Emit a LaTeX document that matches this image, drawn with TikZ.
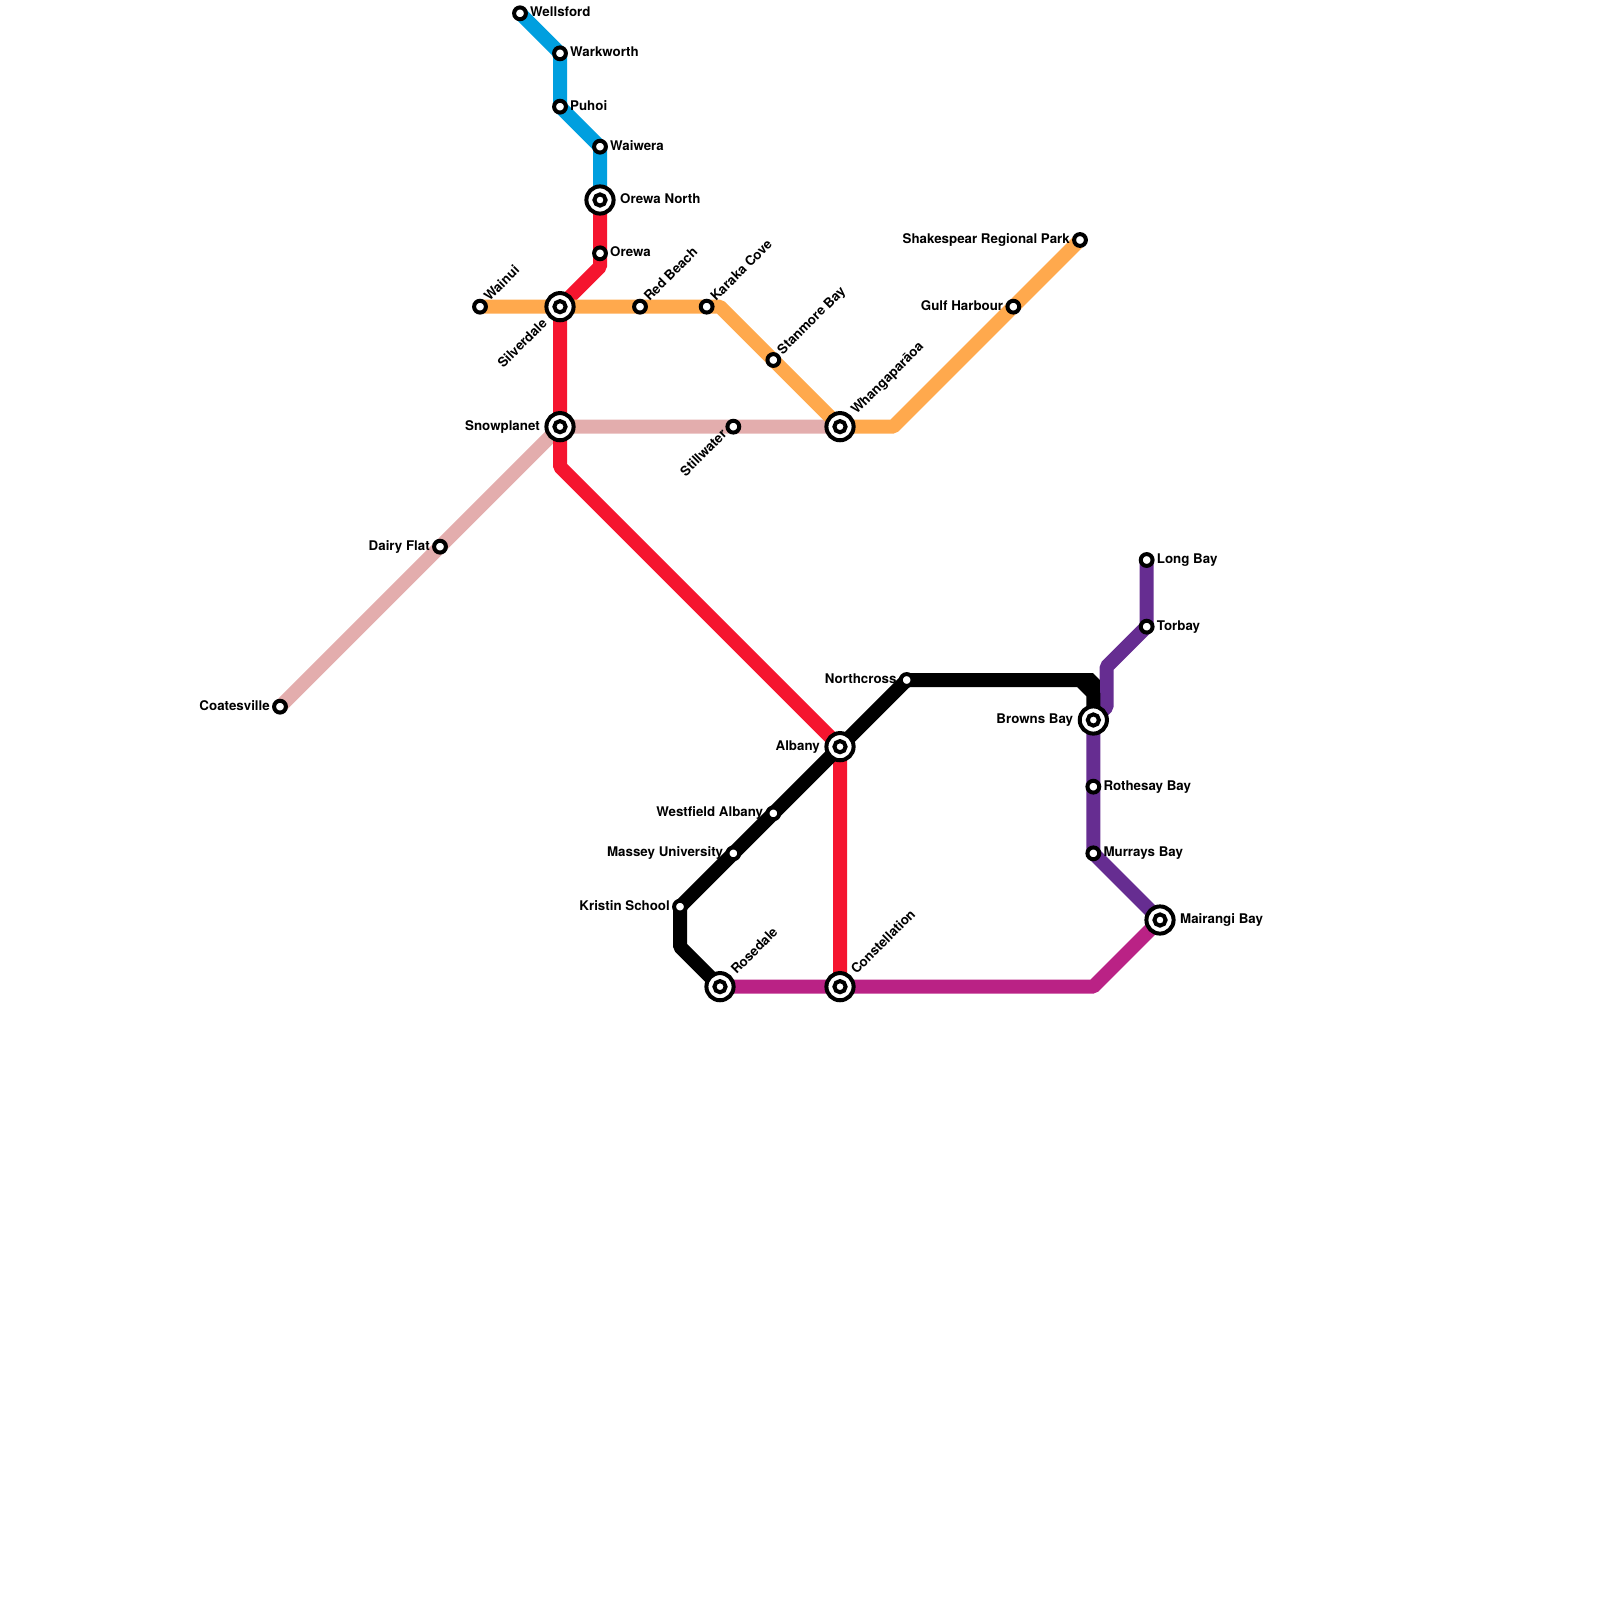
\documentclass[tikz,border=0pt]{standalone}
\usepackage{fontspec}
\setmainfont{TeX Gyre Heros}
\pgfdeclarelayer{bg}
\pgfsetlayers{bg,main}
\definecolor{cblue}{HTML}{009FDF}
\definecolor{cred}{HTML}{F5152F}
\definecolor{corange}{HTML}{FFA94D}
\definecolor{cpink}{HTML}{E3ADAD}
\definecolor{cpurple}{HTML}{662D91}
\definecolor{cmag}{HTML}{BA2285}
\tikzset{
 x=13.3333pt,y=-13.3333pt,
 ln/.style={line width=14pt,line join=bevel,line cap=butt},
 sta/.style={circle,draw=black,fill=white,line width=4pt,minimum size=11.8pt,inner sep=0pt,outer sep=0pt},
 hub/.style={circle,draw=black,fill=white,line width=4pt,minimum size=27.2pt,inner sep=0pt,outer sep=0pt,
   path picture={\draw[line width=4pt,black] (path picture bounding box.center) circle (5.6pt);}},
 txt/.style={font=\bfseries\fontsize{13.33pt}{14pt}\selectfont,text=black,inner sep=0pt,text height=9.6pt,text depth=2.8pt},
 rgt/.style={txt,anchor=west},
 lft/.style={txt,anchor=east},
 upr/.style={txt,anchor=west,rotate=45},
 dnl/.style={txt,anchor=east,rotate=45}
}
\begin{document}
\begin{tikzpicture}
\useasboundingbox (0,0) rectangle (120,120);
% stations
\node[sta] (wellsford) at (39,1) {};
\node[sta] (warkworth) at (42,4) {};
\node[sta] (puhoi) at (42,8) {};
\node[sta] (waiwera) at (45,11) {};
\node[hub] (orewan) at (45,15) {};
\node[sta] (orewa) at (45,19) {};
\node[sta] (wainui) at (36,23) {};
\node[hub] (silverdale) at (42,23) {};
\node[sta] (redbeach) at (48,23) {};
\node[sta] (karaka) at (53,23) {};
\node[sta] (stanmore) at (58,27) {};
\node[hub] (whanga) at (63,32) {};
\node[sta] (gulf) at (76,23) {};
\node[sta] (shakespear) at (81,18) {};
\node[hub] (snowplanet) at (42,32) {};
\node[sta] (stillwater) at (55,32) {};
\node[sta] (dairy) at (33,41) {};
\node[sta] (coatesville) at (21,53) {};
\node[hub] (albany) at (63,56) {};
\node[hub] (constellation) at (63,74) {};
\node[hub] (rosedale) at (54,74) {};
\node[sta] (kristin) at (51,68) {};
\node[sta] (massey) at (55,64) {};
\node[sta] (westfield) at (58,61) {};
\node[sta] (northcross) at (68,51) {};
\node[hub] (browns) at (82,54) {};
\node[sta] (rothesay) at (82,59) {};
\node[sta] (murrays) at (82,64) {};
\node[hub] (mairangi) at (87,69) {};
\node[sta] (longbay) at (86,42) {};
\node[sta] (torbay) at (86,47) {};
% bends
\coordinate (b1) at (45,20);
\coordinate (b2) at (54,23);
\coordinate (b3) at (67,32);
\coordinate (b4) at (42,35);
\coordinate (b5) at (51,71);
\coordinate (b6) at (81,51);
\coordinate (b7) at (82,52);
\coordinate (b8) at (83,50);
\coordinate (b9) at (83,53);
\coordinate (b10) at (82,74);
\coordinate (b11) at (82,51);
% lines
\begin{pgfonlayer}{bg}
\draw[ln,cpink] (coatesville.center) -- (dairy.center) -- (snowplanet.center) -- (stillwater.center) -- (whanga.center);
\draw[ln,cred] (orewan.center) -- (orewa.center) -- (b1) -- (silverdale.center) -- (snowplanet.center) -- (b4) -- (albany.center) -- (constellation.center);
\draw[ln,cblue] (wellsford.center) -- (warkworth.center) -- (puhoi.center) -- (waiwera.center) -- (orewan.center);
\draw[ln,corange] (wainui.center) -- (silverdale.center) -- (redbeach.center) -- (karaka.center) -- (b2) -- (stanmore.center) -- (whanga.center) -- (b3) -- (gulf.center) -- (shakespear.center);
\draw[ln,cpurple] (longbay.center) -- (torbay.center) -- (b8) -- (b9) -- (browns.center) -- (rothesay.center) -- (murrays.center) -- (mairangi.center);
\draw[ln,cmag] (rosedale.center) -- (constellation.center) -- (b10) -- (mairangi.center);
\draw[ln,black] (rosedale.center) -- (b5) -- (kristin.center) -- (massey.center) -- (westfield.center) -- (albany.center) -- (northcross.center) -- (b6) -- (b7) -- (browns.center);
\draw[ln,black] (b6) -- (b11) -- (b7);
\end{pgfonlayer}
% labels
\node[rgt] (t1) at ([xshift=10pt]wellsford.center) {Wellsford};
\node[rgt] (t2) at ([xshift=10pt]warkworth.center) {Warkworth};
\node[rgt] (t3) at ([xshift=10pt]puhoi.center) {Puhoi};
\node[rgt] (t4) at ([xshift=10pt]waiwera.center) {Waiwera};
\node[rgt] (t5) at ([xshift=20pt]orewan.center) {Orewa North};
\node[rgt] (t6) at ([xshift=10pt]orewa.center) {Orewa};
\node[upr] (t7) at ([xshift=7pt,yshift=7pt]wainui.center) {Wainui};
\node[dnl] (t8) at ([xshift=-14.5pt,yshift=-15pt]silverdale.center) {Silverdale};
\node[upr] (t9) at ([xshift=7pt,yshift=7pt]redbeach.center) {Red Beach};
\node[upr] (t10) at ([xshift=7pt,yshift=7pt]karaka.center) {Karaka Cove};
\node[upr] (t11) at ([xshift=7pt,yshift=7pt]stanmore.center) {Stanmore Bay};
\node[upr] (t12) at ([xshift=14pt,yshift=14pt]whanga.center) {Whangaparāoa};
\node[lft] (t13) at ([xshift=-10pt]gulf.center) {Gulf Harbour};
\node[lft] (t14) at ([xshift=-10pt]shakespear.center) {Shakespear Regional Park};
\node[lft] (t15) at ([xshift=-20pt]snowplanet.center) {Snowplanet};
\node[dnl] (t16) at ([xshift=-8pt,yshift=-6pt]stillwater.center) {Stillwater};
\node[lft] (t17) at ([xshift=-10pt]dairy.center) {Dairy Flat};
\node[lft] (t18) at ([xshift=-10pt]coatesville.center) {Coatesville};
\node[lft] (t19) at ([xshift=-20pt]albany.center) {Albany};
\node[upr] (t20) at ([xshift=14pt,yshift=14pt]constellation.center) {Constellation};
\node[upr] (t21) at ([xshift=14pt,yshift=14pt]rosedale.center) {Rosedale};
\node[lft] (t22) at ([xshift=-10pt]kristin.center) {Kristin School};
\node[lft] (t23) at ([xshift=-10pt]massey.center) {Massey University};
\node[lft] (t24) at ([xshift=-10pt]westfield.center) {Westfield Albany};
\node[lft] (t25) at ([xshift=-10pt]northcross.center) {Northcross};
\node[lft] (t26) at ([xshift=-20pt]browns.center) {Browns Bay};
\node[rgt] (t27) at ([xshift=10pt]rothesay.center) {Rothesay Bay};
\node[rgt] (t28) at ([xshift=10pt]murrays.center) {Murrays Bay};
\node[rgt] (t29) at ([xshift=20pt]mairangi.center) {Mairangi Bay};
\node[rgt] (t30) at ([xshift=10pt]longbay.center) {Long Bay};
\node[rgt] (t31) at ([xshift=10pt]torbay.center) {Torbay};
\end{tikzpicture}
\end{document}
